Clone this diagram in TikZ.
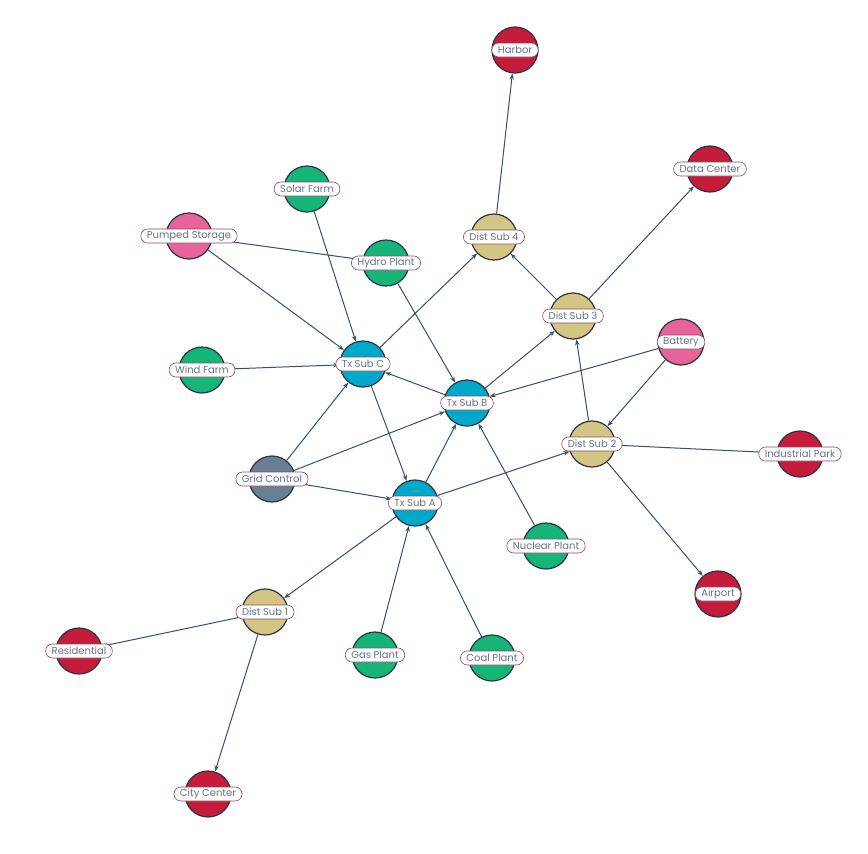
\documentclass[tikz,border=0pt]{standalone}
\usepackage{fontspec}
\setmainfont{Poppins}
\usetikzlibrary{arrows.meta}

\definecolor{consumer}{HTML}{C41C3A}
\definecolor{plant}{HTML}{15B57A}
\definecolor{storage}{HTML}{E6649A}
\definecolor{distsub}{HTML}{D3C685}
\definecolor{txsub}{HTML}{00A9CB}
\definecolor{control}{HTML}{687F94}
\definecolor{edge}{HTML}{3A4F66}
\definecolor{rim}{HTML}{2B3440}
\definecolor{tagborder}{HTML}{8C4A58}
\definecolor{tagtext}{HTML}{667487}

\begin{document}
\begin{tikzpicture}[
    x=1pt, y=-1pt,
    site/.style={
        draw=rim,
        circle,
        line width=1.2pt,
        minimum size=46pt,
        inner sep=0pt
    },
    tag/.style={
        draw=tagborder,
        fill=white,
        rounded corners=6.8pt,
        line width=0.6pt,
        text=tagtext,
        font=\fontsize{10}{11}\selectfont,
        inner xsep=6pt,
        inner ysep=1.6pt,
        minimum height=14pt
    },
    arrow/.style={-{Stealth[length=6pt,width=4.5pt]}, draw=edge, line width=1pt},
    link/.style={draw=edge, line width=1pt}
]
    \useasboundingbox (0,0) rectangle (868,854);

    % sites
    \node[site, fill=consumer] (harbor) at (515,50) {};
    \node[site, fill=consumer] (datacenter) at (710,169) {};
    \node[site, fill=plant] (solar) at (307,189) {};
    \node[site, fill=storage] (pumped) at (189,236) {};
    \node[site, fill=distsub] (dist4) at (494,237) {};
    \node[site, fill=plant] (hydro) at (386,263) {};
    \node[site, fill=distsub] (dist3) at (573,316) {};
    \node[site, fill=storage] (battery) at (681,342) {};
    \node[site, fill=txsub] (txc) at (363,364) {};
    \node[site, fill=plant] (wind) at (202,370) {};
    \node[site, fill=txsub] (txb) at (467,403) {};
    \node[site, fill=distsub] (dist2) at (592,444) {};
    \node[site, fill=consumer] (industrial) at (800,454) {};
    \node[site, fill=control] (grid) at (272,479) {};
    \node[site, fill=txsub] (txa) at (415,503) {};
    \node[site, fill=plant] (nuclear) at (546,546) {};
    \node[site, fill=consumer] (airport) at (718,594) {};
    \node[site, fill=distsub] (dist1) at (265,612) {};
    \node[site, fill=consumer] (residential) at (79,651) {};
    \node[site, fill=plant] (gas) at (375,655) {};
    \node[site, fill=plant] (coal) at (492,658) {};
    \node[site, fill=consumer] (city) at (208,794) {};

    % power flow
    \draw[arrow] (dist4) -- (harbor);
    \draw[arrow] (dist3) -- (datacenter);
    \draw[arrow] (dist3) -- (dist4);
    \draw[arrow] (txc) -- (dist4);
    \draw[arrow] (txb) -- (dist3);
    \draw[arrow] (dist2) -- (dist3);
    \draw[arrow] (battery) -- (txb);
    \draw[arrow] (battery) -- (dist2);
    \draw[arrow] (dist2) -- (industrial);
    \draw[arrow] (dist2) -- (airport);
    \draw[arrow] (nuclear) -- (txb);
    \draw[arrow] (txa) -- (dist2);
    \draw[arrow] (txb) -- (txc);
    \draw[arrow] (hydro) -- (txb);
    \draw[arrow] (solar) -- (txc);
    \draw[arrow] (pumped) -- (txc);
    \draw[link] (pumped) -- (hydro);
    \draw[arrow] (wind) -- (txc);
    \draw[arrow] (grid) -- (txc);
    \draw[arrow] (grid) -- (txb);
    \draw[arrow] (grid) -- (txa);
    \draw[arrow] (txc) -- (txa);
    \draw[arrow] (txa) -- (txb);
    \draw[arrow] (txa) -- (dist1);
    \draw[arrow] (gas) -- (txa);
    \draw[arrow] (coal) -- (txa);
    \draw[arrow] (dist1) -- (residential);
    \draw[arrow] (dist1) -- (city);

    % labels
    \node[tag] (harbor-l) at (harbor) {Harbor};
    \node[tag] (datacenter-l) at (datacenter) {Data Center};
    \node[tag] (solar-l) at (solar) {Solar Farm};
    \node[tag] (pumped-l) at (pumped) {Pumped Storage};
    \node[tag] (dist4-l) at (dist4) {Dist Sub 4};
    \node[tag] (hydro-l) at (hydro) {Hydro Plant};
    \node[tag] (dist3-l) at (dist3) {Dist Sub 3};
    \node[tag] (battery-l) at (battery) {Battery};
    \node[tag] (txc-l) at (txc) {Tx Sub C};
    \node[tag] (wind-l) at (wind) {Wind Farm};
    \node[tag] (txb-l) at (txb) {Tx Sub B};
    \node[tag] (dist2-l) at (dist2) {Dist Sub 2};
    \node[tag] (industrial-l) at (industrial) {Industrial Park};
    \node[tag] (grid-l) at (grid) {Grid Control};
    \node[tag] (txa-l) at (txa) {Tx Sub A};
    \node[tag] (nuclear-l) at (nuclear) {Nuclear Plant};
    \node[tag] (airport-l) at (airport) {Airport};
    \node[tag] (dist1-l) at (dist1) {Dist Sub 1};
    \node[tag] (residential-l) at (residential) {Residential};
    \node[tag] (gas-l) at (gas) {Gas Plant};
    \node[tag] (coal-l) at (coal) {Coal Plant};
    \node[tag] (city-l) at (city) {City Center};

\end{tikzpicture}
\end{document}
